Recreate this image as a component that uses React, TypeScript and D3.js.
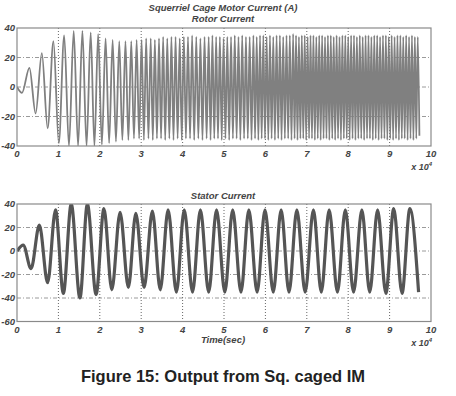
import React from 'react';
import * as d3 from 'd3';

// time axis is in units of 10^4
const xTicks = [0, 1, 2, 3, 4, 5, 6, 7, 8, 9, 10];
const rotorYTicks = [-40, -20, 0, 20, 40];
const statorYTicks = [-60, -40, -20, 0, 20, 40];

// rotor current: start, peak times/values, trough values (between peaks)
const rotorStartT = [0, 0.12];
const rotorStartV = [0, -4];
const rotorPeakT = [
  0.30, 0.60, 0.88, 1.14, 1.37, 1.58, 1.78, 1.96, 2.14, 2.31,
  2.47, 2.62, 2.76, 2.89, 3.01, 3.12, 3.23, 3.33, 3.43, 3.53,
  3.63, 3.73, 3.83, 3.93, 4.03, 4.13, 4.23, 4.33, 4.43, 4.53,
  4.63, 4.72, 4.81, 4.90, 4.99, 5.08, 5.17, 5.26, 5.35, 5.44,
  5.53, 5.62, 5.71, 5.79, 5.87, 5.95, 6.03, 6.11, 6.19, 6.27,
  6.35, 6.43, 6.51, 6.59, 6.67, 6.74, 6.81, 6.88, 6.95, 7.02,
  7.09, 7.16, 7.23, 7.30, 7.37, 7.44, 7.51, 7.58, 7.65, 7.72,
  7.79, 7.86, 7.93, 8.00, 8.07, 8.14, 8.21, 8.28, 8.35, 8.42,
  8.49, 8.56, 8.63, 8.70, 8.77, 8.84, 8.91, 8.98, 9.05, 9.12,
  9.19, 9.26, 9.33, 9.40, 9.47, 9.54, 9.61, 9.68,
];
const rotorPeakV = [
  13, 23, 31, 35, 38, 38, 37, 36, 33, 32,
  31, 31, 31, 32, 32, 33, 33, 32, 33, 34,
  33, 34, 34, 33, 34, 34, 35, 34, 33, 34,
  34, 35, 34, 34, 33, 34, 34, 35, 34, 35,
  34, 34, 35, 34, 35, 35, 34, 35, 34, 35,
  35, 34, 35, 35, 36, 35, 34, 35, 35, 34,
  35, 35, 34, 35, 35, 34, 35, 35, 34, 35,
  34, 35, 35, 34, 35, 35, 34, 35, 34, 35,
  35, 34, 35, 35, 34, 35, 35, 34, 35, 34,
  35, 35, 34, 35, 34, 35, 34, 34,
];
const rotorTroughV = [
  -18, -28, -38, -40, -40, -40, -40, -39, -38, -37,
  -36, -36, -35, -35, -36, -35, -36, -35, -35, -36,
  -35, -36, -35, -36, -35, -35, -36, -35, -36, -35,
  -36, -35, -35, -36, -35, -36, -35, -35, -36, -35,
  -35, -36, -35, -36, -35, -35, -36, -35, -36, -35,
  -36, -35, -35, -36, -35, -36, -35, -35, -36, -35,
  -35, -36, -35, -36, -35, -35, -36, -35, -36, -35,
  -36, -35, -35, -36, -35, -36, -35, -35, -36, -35,
  -35, -36, -35, -36, -35, -35, -36, -35, -36, -35,
  -36, -35, -35, -36, -35, -36, -35,
];
const rotorEnd: [number, number] = [9.72, -33];

// stator current: peaks and troughs
const statorPeakT = [0.15, 0.54, 0.93, 1.31, 1.70, 2.10, 2.49, 2.87, 3.27, 3.65, 4.04, 4.43, 4.82,
  5.21, 5.60, 5.99, 6.38, 6.76, 7.16, 7.54, 7.93, 8.33, 8.71, 9.10, 9.49];
const statorPeakV = [5, 22, 35, 40, 40, 36, 33, 32, 34, 35, 35, 35, 35,
  35, 35, 35, 35, 35, 35, 35, 35, 35, 35, 36, 36];
const statorTroughT = [0.34, 0.74, 1.12, 1.52, 1.91, 2.29, 2.69, 3.07, 3.46, 3.85, 4.24, 4.63, 5.02,
  5.41, 5.80, 6.19, 6.57, 6.96, 7.35, 7.74, 8.13, 8.52, 8.91, 9.30, 9.70];
const statorTroughV = [-15, -27, -36, -40, -37, -33, -31, -31, -33, -35, -35, -35, -35,
  -35, -35, -35, -35, -35, -35, -35, -35, -35, -36, -36, -35];

const font = '"Liberation Sans", Arial, sans-serif';

function rotorPoints(): [number, number][] {
  const pts: [number, number][] = rotorStartT.map((t, i) => [t, rotorStartV[i]]);
  rotorPeakT.forEach((t, i) => {
    pts.push([t, rotorPeakV[i]]);
    if (i < rotorPeakT.length - 1) pts.push([(t + rotorPeakT[i + 1]) / 2, rotorTroughV[i]]);
  });
  pts.push(rotorEnd);
  return pts;
}

function statorPoints(): [number, number][] {
  const pts: [number, number][] = [[0, 0]];
  statorPeakT.forEach((t, i) => {
    pts.push([t, statorPeakV[i]]);
    pts.push([statorTroughT[i], statorTroughV[i]]);
  });
  return pts;
}

interface PanelProps {
  id: string;
  top: number;
  bottom: number;
  yTicks: number[];
  points: [number, number][];
  stroke: string;
  strokeWidth: number;
}

const left = 17;
const right = 431;

const Panel: React.FC<PanelProps> = ({ id, top, bottom, yTicks, points, stroke, strokeWidth }) => {
  const x = d3.scaleLinear().domain([0, 10]).range([left, right]);
  const y = d3.scaleLinear().domain([yTicks[0], yTicks[yTicks.length - 1]]).range([bottom, top]);
  const line = d3.line<[number, number]>()
    .x(d => x(d[0]))
    .y(d => y(d[1]))
    .curve(d3.curveMonotoneX);

  return (
    <g>
      <defs>
        <clipPath id={id}>
          <rect x={left} y={top} width={right - left} height={bottom - top} />
        </clipPath>
      </defs>
      <rect x={left} y={top} width={right - left} height={bottom - top} fill="#fff" />
      {yTicks.slice(1, -1).map(t => (
        <line key={`h${t}`} x1={left} x2={right} y1={y(t)} y2={y(t)}
          stroke="#9a9a9a" strokeWidth={1} strokeDasharray="4,2,1,2" />
      ))}
      {xTicks.slice(1, -1).map(t => (
        <line key={`v${t}`} x1={x(t)} x2={x(t)} y1={top} y2={bottom}
          stroke="#666" strokeWidth={1} strokeDasharray="1,2" />
      ))}
      <path d={line(points) || ''} fill="none" stroke={stroke} strokeWidth={strokeWidth}
        strokeLinejoin="round" clipPath={`url(#${id})`} />
      <rect x={left} y={top} width={right - left} height={bottom - top}
        fill="none" stroke="#8a8a8a" strokeWidth={1.2} />
      {yTicks.map(t => (
        <text key={`yl${t}`} x={left - 2} y={y(t)} dy="0.35em" textAnchor="end"
          fontFamily={font} fontSize={9.5} fontWeight="bold" fontStyle="italic" fill="#444">{t}</text>
      ))}
      {xTicks.map(t => (
        <text key={`xl${t}`} x={x(t)} y={bottom + 11} textAnchor="middle"
          fontFamily={font} fontSize={9.5} fontWeight="bold" fontStyle="italic" fill="#444">{t}</text>
      ))}
      <text x={right + 1} y={bottom + 24} textAnchor="end" fontFamily={font} fontSize={9}
        fontWeight="bold" fontStyle="italic" fill="#444">
        x 10<tspan dy={-4} fontSize={6}>4</tspan>
      </text>
    </g>
  );
};

export default function App() {
  return (
    <svg width={456} height={396} style={{ position: 'absolute', left: 0, top: 0, background: '#fff' }}>
      <rect width={456} height={396} fill="#fff" />
      <text x={223} y={11} textAnchor="middle" fontFamily={font} fontSize={9.5}
        fontWeight="bold" fontStyle="italic" fill="#444">Squerriel Cage Motor Current (A)</text>
      <text x={223} y={22} textAnchor="middle" fontFamily={font} fontSize={9.5}
        fontWeight="bold" fontStyle="italic" fill="#444">Rotor Current</text>
      <Panel id="clipRotor" top={28} bottom={146} yTicks={rotorYTicks} points={rotorPoints()}
        stroke="#808080" strokeWidth={1.8} />
      <text x={223} y={199} textAnchor="middle" fontFamily={font} fontSize={9.5}
        fontWeight="bold" fontStyle="italic" fill="#444">Stator Current</text>
      <Panel id="clipStator" top={204} bottom={321.5} yTicks={statorYTicks} points={statorPoints()}
        stroke="#555" strokeWidth={3.2} />
      <text x={223} y={343} textAnchor="middle" fontFamily={font} fontSize={9.5}
        fontWeight="bold" fontStyle="italic" fill="#444">Time(sec)</text>
      <text x={223} y={382} textAnchor="middle" fontFamily={font} fontSize={16.5}
        fontWeight="bold" fill="#222">Figure 15: Output from Sq. caged IM</text>
    </svg>
  );
}
